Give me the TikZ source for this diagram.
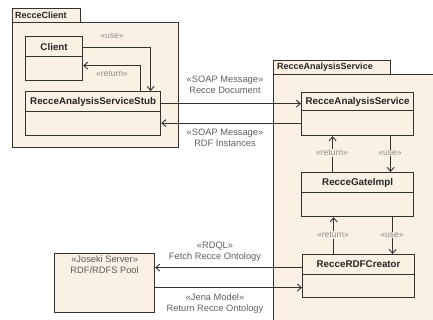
\documentclass[tikz,border=0pt]{standalone}
\usepackage{fontspec}
\setmainfont{Liberation Sans}
\usetikzlibrary{arrows.meta,calc}
\definecolor{umlfill}{RGB}{250,240,228}
\definecolor{umlline}{RGB}{50,50,50}
\definecolor{stereo}{RGB}{140,140,140}
\definecolor{msgtext}{RGB}{95,95,95}
\tikzset{
  pkgbox/.style={draw=umlline, fill=umlfill, line width=1pt},
  classbox/.style={draw=umlline, fill=umlfill, line width=1.2pt, inner sep=0pt},
  classline/.style={draw=umlline, line width=1pt},
  classname/.style={font=\bfseries\fontsize{9.8}{10}\selectfont, text=black!85, inner sep=0pt},
  pkgname/.style={font=\bfseries\fontsize{9}{10}\selectfont, text=black!85, inner sep=0pt, anchor=west},
  dep/.style={draw=umlline, line width=0.9pt, -{Straight Barb[length=4pt,width=7pt,line width=0.9pt]}},
  stereolabel/.style={font=\fontsize{8.5}{9}\selectfont, text=stereo, inner sep=1pt},
  stereofill/.style={stereolabel, fill=umlfill},
  msglabel/.style={font=\fontsize{9.3}{11}\selectfont, text=msgtext, inner sep=0pt, align=center},
}
\newcommand\umlclass[7]{%
  \node[classbox, minimum width=#4pt, minimum height=#5pt, anchor=north west] (#1) at (#2,#3) {};
  \draw[classline] ([yshift=-#6pt]#1.north west) -- ([yshift=-#6pt]#1.north east);
  \node[classname] at ([yshift={-#6pt/2}]#1.north) {#7};
}
\begin{document}
\begin{tikzpicture}[x=1pt,y=-1pt]
\useasboundingbox (0,0) rectangle (433,320);
% RecceClient package
\node[pkgbox, minimum width=68pt, minimum height=14pt, anchor=north west, inner sep=0pt] (pcTab) at (12,8) {};
\node[pkgbox, minimum width=166pt, minimum height=125pt, anchor=north west, inner sep=0pt] (pcBody) at (12,22) {};
\node[pkgname] (pcName) at (15,15) {RecceClient};
% RecceAnalysisService package
\node[pkgbox, minimum width=117pt, minimum height=14pt, anchor=north west, inner sep=0pt] (psTab) at (273,60) {};
\node[pkgbox, minimum width=180pt, minimum height=270pt, anchor=north west, inner sep=0pt] (psBody) at (273,74) {};
\node[pkgname] (psName) at (277,67) {RecceAnalysisService};
% classes
\umlclass{client}{25}{36}{57}{44}{21}{Client}
\umlclass{stub}{25}{91}{135}{44}{21}{RecceAnalysisServiceStub}
\umlclass{ras}{301}{92}{112}{43}{19}{RecceAnalysisService}
\umlclass{gate}{301}{172}{112}{44}{21}{RecceGateImpl}
\umlclass{rdf}{302}{254}{112}{43}{20}{RecceRDFCreator}
% Joseki
\node[classbox, minimum width=100pt, minimum height=59pt, anchor=north west] (joseki) at (54,253) {};
\node[msglabel, text=black!65, anchor=north] (josekiText) at ([yshift=-3pt]joseki.north) {«Joseki Server»\\RDF/RDFS Pool};
% connectors in RecceClient
\draw[dep] ([yshift=11pt]client.east) -| ([xshift=57.5pt]stub.north);
\draw[dep] ([xshift=47.5pt]stub.north) |- ([yshift=-7pt]client.east);
\node[stereolabel] (useA) at (112,36) {«use»};
\node[stereolabel] (retA) at (112,74) {«return»};
% SOAP messages
\draw[dep] ([yshift=10pt]stub.east) -- ([yshift=10pt]stub.east -| ras.west);
\draw[dep] ([yshift=-9pt]ras.west) -- ([yshift=-9pt]ras.west -| stub.east);
\node[msglabel] (soap1) at (225,85) {«SOAP Message»\\Recce Document};
\node[msglabel] (soap2) at (225,138) {«SOAP Message»\\RDF Instances};
% inside RecceAnalysisService
\draw[dep] ([xshift=-25pt]gate.north) -- ([xshift=-25pt]gate.north |- ras.south);
\draw[dep] ([xshift=33pt]ras.south) -- ([xshift=33pt]ras.south |- gate.north);
\node[stereofill] (retB) at (332,153) {«return»};
\node[stereofill] (useB) at (390,153) {«use»};
\draw[dep] ([xshift=-25pt]rdf.north) -- ([xshift=-25pt]rdf.north |- gate.south);
\draw[dep] ([xshift=35pt]gate.south) -- ([xshift=35pt]gate.south |- rdf.north);
\node[stereofill] (retC) at (333,235) {«return»};
\node[stereofill] (useC) at (392,235) {«use»};
% ontology connectors
\draw[dep] ([yshift=8.5pt]rdf.west) -- ([yshift=8.5pt]rdf.west -| joseki.east);
\draw[dep] ([yshift=-4.5pt]joseki.east) -- ([yshift=-4.5pt]joseki.east -| rdf.west);
\node[msglabel] (rdql) at (215,252) {«RDQL»\\Fetch Recce Ontology};
\node[msglabel] (jena) at (215,304) {«Jena Model»\\Return Recce Ontology};
\end{tikzpicture}
\end{document}
